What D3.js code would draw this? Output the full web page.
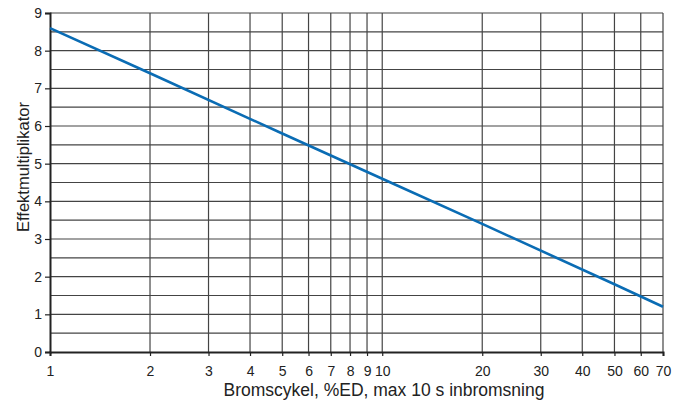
<!DOCTYPE html>
<html>
<head>
<meta charset="utf-8">
<script src="https://cdn.jsdelivr.net/npm/d3@7"></script>
<style>
  body { margin: 0; background: #fff; }
  text { font-family: "Liberation Sans", Arial, sans-serif; fill: #222; }
</style>
</head>
<body>
<svg id="chart" width="687" height="403"></svg>
<script>
// data
var xTicks = [1, 2, 3, 4, 5, 6, 7, 8, 9, 10, 20, 30, 40, 50, 60, 70];
var yTicks = [0, 1, 2, 3, 4, 5, 6, 7, 8, 9];
var yGrid = [0.5, 1, 1.5, 2, 2.5, 3, 3.5, 4, 4.5, 5, 5.5, 6, 6.5, 7, 7.5, 8, 8.5, 9];
var dutyCycle = [1, 2, 5, 10, 20, 50, 70];
var multiplier = [8.6, 7.4, 5.8, 4.6, 3.4, 1.8, 1.2];

const svg = d3.select("#chart");

const plotLeft = 50, plotRight = 663, plotTop = 13, plotBottom = 352;

const x = d3.scaleLog().domain([1, 70]).range([plotLeft, plotRight]);
const y = d3.scaleLinear().domain([0, 9]).range([plotBottom, plotTop]);

// vertical grid lines
svg.append("g").selectAll("line")
  .data(xTicks.slice(1))
  .enter()
  .append("line")
  .attr("x1", d => x(d)).attr("x2", d => x(d))
  .attr("y1", plotTop).attr("y2", plotBottom)
  .attr("stroke", "#444")
  .attr("stroke-width", 1.2);

// horizontal grid lines
svg.append("g").selectAll("line")
  .data(yGrid)
  .enter()
  .append("line")
  .attr("x1", plotLeft).attr("x2", plotRight)
  .attr("y1", d => y(d)).attr("y2", d => y(d))
  .attr("stroke", "#444")
  .attr("stroke-width", 1.2);

// x axis
const xAxis = svg.append("g")
  .attr("transform", `translate(0,${plotBottom})`)
  .call(d3.axisBottom(x).tickValues(xTicks).tickFormat(d3.format("d")).tickSize(4).tickPadding(10));
xAxis.select(".domain").attr("stroke", "#222").attr("stroke-width", 2);
xAxis.selectAll(".tick line").attr("stroke", "#222").attr("stroke-width", 1.2);
xAxis.selectAll("text").attr("font-size", "14px").attr("fill", "#222");

// y axis
const yAxis = svg.append("g")
  .attr("transform", `translate(${plotLeft},0)`)
  .call(d3.axisLeft(y).tickValues(yTicks).tickSize(5).tickPadding(3));
yAxis.select(".domain").attr("stroke", "#222").attr("stroke-width", 2);
yAxis.selectAll(".tick line").attr("stroke", "#222").attr("stroke-width", 1.2);
yAxis.selectAll("text").attr("font-size", "14px").attr("fill", "#222");

// axis titles
svg.append("text")
  .attr("x", 384)
  .attr("y", 396)
  .attr("text-anchor", "middle")
  .attr("font-size", "17.5px")
  .text("Bromscykel, %ED, max 10 s inbromsning");

svg.append("text")
  .attr("transform", "translate(29,167) rotate(-90)")
  .attr("text-anchor", "middle")
  .attr("font-size", "16.5px")
  .text("Effektmultiplikator");

// curve
const line = d3.line()
  .x((d, i) => x(dutyCycle[i]))
  .y(d => y(d));

svg.append("path")
  .datum(multiplier)
  .attr("d", line)
  .attr("fill", "none")
  .attr("stroke", "#0a6cb4")
  .attr("stroke-width", 2.6);
</script>
</body>
</html>
